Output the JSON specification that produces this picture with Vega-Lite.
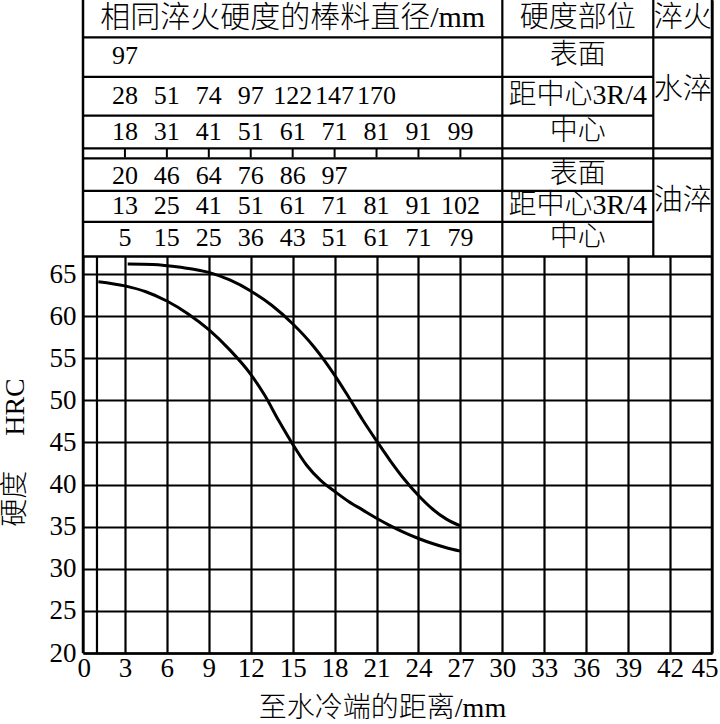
{
  "$schema": "https://vega.github.io/schema/vega-lite/v6.json",
  "width": 629,
  "height": 653,
  "autosize": {"type": "none"},
  "padding": {"left": 83, "top": 0, "right": 8, "bottom": 71},
  "background": "white",
  "config": {
    "view": {"stroke": null},
    "font": "Liberation Serif, Noto Sans CJK SC",
    "text": {"font": "Liberation Serif, Noto Sans CJK SC", "fontSize": 26, "color": "black", "align": "center", "baseline": "middle", "fontWeight": 300},
    "axis": {
      "labelFont": "Liberation Serif, Noto Sans CJK SC",
      "titleFont": "Liberation Serif, Noto Sans CJK SC",
      "labelColor": "black", "titleColor": "black",
      "labelFontSize": 27, "titleFontSize": 28, "titleFontWeight": 300,
      "gridColor": "black", "gridOpacity": 1, "gridWidth": 2.2, "ticks": false
    }
  },
  "datasets": {
    "one": [{"k": 1}],
    "curves": [
      {"series": "upper", "d": 3.2, "hrc": 66.2},
      {"series": "upper", "d": 5, "hrc": 66.15},
      {"series": "upper", "d": 7, "hrc": 65.8},
      {"series": "upper", "d": 9, "hrc": 65.2},
      {"series": "upper", "d": 10.5, "hrc": 64.3},
      {"series": "upper", "d": 12, "hrc": 63.0},
      {"series": "upper", "d": 13.5, "hrc": 61.3},
      {"series": "upper", "d": 15, "hrc": 59.1},
      {"series": "upper", "d": 16.5, "hrc": 56.4},
      {"series": "upper", "d": 18, "hrc": 53.0},
      {"series": "upper", "d": 19, "hrc": 50.4},
      {"series": "upper", "d": 20, "hrc": 47.7},
      {"series": "upper", "d": 21, "hrc": 45.2},
      {"series": "upper", "d": 22, "hrc": 42.8},
      {"series": "upper", "d": 23, "hrc": 40.6},
      {"series": "upper", "d": 24, "hrc": 38.7},
      {"series": "upper", "d": 25, "hrc": 37.1},
      {"series": "upper", "d": 26, "hrc": 35.9},
      {"series": "upper", "d": 27, "hrc": 35.1},
      {"series": "lower", "d": 1.1, "hrc": 64.1},
      {"series": "lower", "d": 3, "hrc": 63.6},
      {"series": "lower", "d": 4.5, "hrc": 62.9},
      {"series": "lower", "d": 6, "hrc": 61.8},
      {"series": "lower", "d": 7.5, "hrc": 60.3},
      {"series": "lower", "d": 9, "hrc": 58.4},
      {"series": "lower", "d": 10.5, "hrc": 56.0},
      {"series": "lower", "d": 12, "hrc": 53.1},
      {"series": "lower", "d": 13, "hrc": 50.6},
      {"series": "lower", "d": 14, "hrc": 47.6},
      {"series": "lower", "d": 15, "hrc": 44.8},
      {"series": "lower", "d": 16, "hrc": 42.3},
      {"series": "lower", "d": 17, "hrc": 40.5},
      {"series": "lower", "d": 18, "hrc": 39.2},
      {"series": "lower", "d": 19, "hrc": 38.0},
      {"series": "lower", "d": 20, "hrc": 37.0},
      {"series": "lower", "d": 21, "hrc": 36.0},
      {"series": "lower", "d": 22, "hrc": 35.1},
      {"series": "lower", "d": 23, "hrc": 34.3},
      {"series": "lower", "d": 24, "hrc": 33.6},
      {"series": "lower", "d": 25, "hrc": 33.0},
      {"series": "lower", "d": 26, "hrc": 32.5},
      {"series": "lower", "d": 27, "hrc": 32.1}
    ],
    "dia": [
      {"quench": "水淬", "part": "表面", "d": 3, "dia": "97"},
      {"quench": "水淬", "part": "距中心3R/4", "d": 3, "dia": "28"},
      {"quench": "水淬", "part": "距中心3R/4", "d": 6, "dia": "51"},
      {"quench": "水淬", "part": "距中心3R/4", "d": 9, "dia": "74"},
      {"quench": "水淬", "part": "距中心3R/4", "d": 12, "dia": "97"},
      {"quench": "水淬", "part": "距中心3R/4", "d": 15, "dia": "122"},
      {"quench": "水淬", "part": "距中心3R/4", "d": 18, "dia": "147"},
      {"quench": "水淬", "part": "距中心3R/4", "d": 21, "dia": "170"},
      {"quench": "水淬", "part": "中心", "d": 3, "dia": "18"},
      {"quench": "水淬", "part": "中心", "d": 6, "dia": "31"},
      {"quench": "水淬", "part": "中心", "d": 9, "dia": "41"},
      {"quench": "水淬", "part": "中心", "d": 12, "dia": "51"},
      {"quench": "水淬", "part": "中心", "d": 15, "dia": "61"},
      {"quench": "水淬", "part": "中心", "d": 18, "dia": "71"},
      {"quench": "水淬", "part": "中心", "d": 21, "dia": "81"},
      {"quench": "水淬", "part": "中心", "d": 24, "dia": "91"},
      {"quench": "水淬", "part": "中心", "d": 27, "dia": "99"},
      {"quench": "油淬", "part": "表面", "d": 3, "dia": "20"},
      {"quench": "油淬", "part": "表面", "d": 6, "dia": "46"},
      {"quench": "油淬", "part": "表面", "d": 9, "dia": "64"},
      {"quench": "油淬", "part": "表面", "d": 12, "dia": "76"},
      {"quench": "油淬", "part": "表面", "d": 15, "dia": "86"},
      {"quench": "油淬", "part": "表面", "d": 18, "dia": "97"},
      {"quench": "油淬", "part": "距中心3R/4", "d": 3, "dia": "13"},
      {"quench": "油淬", "part": "距中心3R/4", "d": 6, "dia": "25"},
      {"quench": "油淬", "part": "距中心3R/4", "d": 9, "dia": "41"},
      {"quench": "油淬", "part": "距中心3R/4", "d": 12, "dia": "51"},
      {"quench": "油淬", "part": "距中心3R/4", "d": 15, "dia": "61"},
      {"quench": "油淬", "part": "距中心3R/4", "d": 18, "dia": "71"},
      {"quench": "油淬", "part": "距中心3R/4", "d": 21, "dia": "81"},
      {"quench": "油淬", "part": "距中心3R/4", "d": 24, "dia": "91"},
      {"quench": "油淬", "part": "距中心3R/4", "d": 27, "dia": "102"},
      {"quench": "油淬", "part": "中心", "d": 3, "dia": "5"},
      {"quench": "油淬", "part": "中心", "d": 6, "dia": "15"},
      {"quench": "油淬", "part": "中心", "d": 9, "dia": "25"},
      {"quench": "油淬", "part": "中心", "d": 12, "dia": "36"},
      {"quench": "油淬", "part": "中心", "d": 15, "dia": "43"},
      {"quench": "油淬", "part": "中心", "d": 18, "dia": "51"},
      {"quench": "油淬", "part": "中心", "d": 21, "dia": "61"},
      {"quench": "油淬", "part": "中心", "d": 24, "dia": "71"},
      {"quench": "油淬", "part": "中心", "d": 27, "dia": "79"}
    ],
    "cells": [
      {"cell": "h1", "label": "相同淬火硬度的棒料直径/mm"},
      {"cell": "h2", "label": "硬度部位"},
      {"cell": "h3", "label": "淬火"},
      {"cell": "w1", "label": "表面"},
      {"cell": "w2", "label": "距中心3R/4"},
      {"cell": "w3", "label": "中心"},
      {"cell": "wq", "label": "水淬"},
      {"cell": "o1", "label": "表面"},
      {"cell": "o2", "label": "距中心3R/4"},
      {"cell": "o3", "label": "中心"},
      {"cell": "oq", "label": "油淬"}
    ]
  },
  "layer": [
    {
      "data": {"name": "curves"},
      "mark": {"type": "line", "color": "black", "strokeWidth": 3, "interpolate": "monotone"},
      "encoding": {
        "x": {
          "field": "d", "type": "quantitative",
          "scale": {"domain": [0, 45], "nice": false, "zero": false},
          "axis": {
            "values": [0, 3, 6, 9, 12, 15, 18, 21, 24, 27, 30, 33, 36, 39, 42, 45],
            "grid": true, "domain": true, "domainColor": "black", "domainWidth": 2.5,
            "labelPadding": 2, "labelFlush": true, "labelFlushOffset": 6, "labelOverlap": false,
            "title": "至水冷端的距离/mm", "titleX": 299, "titleY": 63, "titleBaseline": "alphabetic", "titleAlign": "center"
          }
        },
        "y": {
          "field": "hrc", "type": "quantitative",
          "scale": {"domain": [20, 97.55], "nice": false, "zero": false},
          "axis": {
            "values": [20, 25, 30, 35, 40, 45, 50, 55, 60, 65],
            "grid": true, "domain": false, "labelPadding": 7, "labelBaseline": "middle",
            "title": "硬度\u2003 HRC", "titleX": -68, "titleY": 452, "titleAngle": -90,
            "titleAlign": "center", "titleBaseline": "middle"
          }
        },
        "detail": {"field": "series"}
      }
    },
    {
      "data": {"name": "one"},
      "mark": {"type": "rect", "fill": "white"},
      "encoding": {"x": {"datum": 0}, "x2": {"datum": 45}, "y": {"datum": 67.09}, "y2": {"datum": 97.55}}
    },
    {
      "data": {"name": "dia"},
      "transform": [{"aggregate": [{"op": "count", "as": "n"}], "groupby": ["d"]}],
      "mark": {"type": "rule", "color": "black", "strokeWidth": 2},
      "encoding": {"x": {"field": "d", "type": "quantitative"}, "y": {"datum": 79.94}, "y2": {"datum": 78.85}}
    },
    {"data": {"name": "one"}, "mark": {"type": "rule", "color": "black", "strokeWidth": 2.2}, "encoding": {"x": {"datum": 0}, "x2": {"datum": 45}, "y": {"datum": 93.1}}},
    {"data": {"name": "one"}, "mark": {"type": "rule", "color": "black", "strokeWidth": 2.2}, "encoding": {"x": {"datum": 0}, "x2": {"datum": 40.8}, "y": {"datum": 88.41}}},
    {"data": {"name": "one"}, "mark": {"type": "rule", "color": "black", "strokeWidth": 2.2}, "encoding": {"x": {"datum": 0}, "x2": {"datum": 40.8}, "y": {"datum": 83.83}}},
    {"data": {"name": "one"}, "mark": {"type": "rule", "color": "black", "strokeWidth": 2.2}, "encoding": {"x": {"datum": 0}, "x2": {"datum": 45}, "y": {"datum": 79.94}}},
    {"data": {"name": "one"}, "mark": {"type": "rule", "color": "black", "strokeWidth": 2.2}, "encoding": {"x": {"datum": 0}, "x2": {"datum": 45}, "y": {"datum": 78.73}}},
    {"data": {"name": "one"}, "mark": {"type": "rule", "color": "black", "strokeWidth": 2.2}, "encoding": {"x": {"datum": 0}, "x2": {"datum": 40.8}, "y": {"datum": 74.89}}},
    {"data": {"name": "one"}, "mark": {"type": "rule", "color": "black", "strokeWidth": 2.2}, "encoding": {"x": {"datum": 0}, "x2": {"datum": 40.8}, "y": {"datum": 71.19}}},
    {"data": {"name": "one"}, "mark": {"type": "rule", "color": "black", "strokeWidth": 2.5}, "encoding": {"x": {"datum": 0}, "x2": {"datum": 45}, "y": {"datum": 67.09}}},
    {"data": {"name": "one"}, "mark": {"type": "rule", "color": "black", "strokeWidth": 2.5}, "encoding": {"x": {"datum": 0}, "y": {"datum": 20}, "y2": {"datum": 97.55}}},
    {"data": {"name": "one"}, "mark": {"type": "rule", "color": "black", "strokeWidth": 2.5}, "encoding": {"x": {"datum": 45}, "y": {"datum": 20}, "y2": {"datum": 97.55}}},
    {"data": {"name": "one"}, "mark": {"type": "rule", "color": "black", "strokeWidth": 2.2}, "encoding": {"x": {"datum": 30}, "y": {"datum": 67.09}, "y2": {"datum": 97.55}}},
    {"data": {"name": "one"}, "mark": {"type": "rule", "color": "black", "strokeWidth": 2.2}, "encoding": {"x": {"datum": 40.8}, "y": {"datum": 67.09}, "y2": {"datum": 97.55}}},
    {"data": {"name": "one"}, "mark": {"type": "rule", "color": "black", "strokeWidth": 2.2}, "encoding": {"x": {"datum": 1}, "y": {"datum": 20}, "y2": {"datum": 67.09}}},
    {"data": {"name": "dia"}, "transform": [{"filter": "datum.quench == '水淬' && datum.part == '表面'"}], "mark": {"type": "text", "fontSize": 26}, "encoding": {"x": {"field": "d", "type": "quantitative"}, "y": {"datum": 90.9}, "text": {"field": "dia", "type": "nominal"}}},
    {"data": {"name": "dia"}, "transform": [{"filter": "datum.quench == '水淬' && datum.part == '距中心3R/4'"}], "mark": {"type": "text", "fontSize": 26}, "encoding": {"x": {"field": "d", "type": "quantitative"}, "y": {"datum": 86.15}, "text": {"field": "dia", "type": "nominal"}}},
    {"data": {"name": "dia"}, "transform": [{"filter": "datum.quench == '水淬' && datum.part == '中心'"}], "mark": {"type": "text", "fontSize": 26}, "encoding": {"x": {"field": "d", "type": "quantitative"}, "y": {"datum": 81.93}, "text": {"field": "dia", "type": "nominal"}}},
    {"data": {"name": "dia"}, "transform": [{"filter": "datum.quench == '油淬' && datum.part == '表面'"}], "mark": {"type": "text", "fontSize": 26}, "encoding": {"x": {"field": "d", "type": "quantitative"}, "y": {"datum": 76.6}, "text": {"field": "dia", "type": "nominal"}}},
    {"data": {"name": "dia"}, "transform": [{"filter": "datum.quench == '油淬' && datum.part == '距中心3R/4'"}], "mark": {"type": "text", "fontSize": 26}, "encoding": {"x": {"field": "d", "type": "quantitative"}, "y": {"datum": 73.09}, "text": {"field": "dia", "type": "nominal"}}},
    {"data": {"name": "dia"}, "transform": [{"filter": "datum.quench == '油淬' && datum.part == '中心'"}], "mark": {"type": "text", "fontSize": 26}, "encoding": {"x": {"field": "d", "type": "quantitative"}, "y": {"datum": 69.29}, "text": {"field": "dia", "type": "nominal"}}},
    {"data": {"name": "cells"}, "transform": [{"filter": "datum.cell == 'h1'"}], "mark": {"type": "text", "fontSize": 30}, "encoding": {"x": {"datum": 15}, "y": {"datum": 95.36}, "text": {"field": "label", "type": "nominal"}}},
    {"data": {"name": "cells"}, "transform": [{"filter": "datum.cell == 'h2'"}], "mark": {"type": "text", "fontSize": 29}, "encoding": {"x": {"datum": 35.4}, "y": {"datum": 95.36}, "text": {"field": "label", "type": "nominal"}}},
    {"data": {"name": "cells"}, "transform": [{"filter": "datum.cell == 'h3'"}], "mark": {"type": "text", "fontSize": 29}, "encoding": {"x": {"datum": 42.9}, "y": {"datum": 95.36}, "text": {"field": "label", "type": "nominal"}}},
    {"data": {"name": "cells"}, "transform": [{"filter": "datum.cell == 'w1'"}], "mark": {"type": "text", "fontSize": 28}, "encoding": {"x": {"datum": 35.4}, "y": {"datum": 90.9}, "text": {"field": "label", "type": "nominal"}}},
    {"data": {"name": "cells"}, "transform": [{"filter": "datum.cell == 'w2'"}], "mark": {"type": "text", "fontSize": 28}, "encoding": {"x": {"datum": 35.4}, "y": {"datum": 86.15}, "text": {"field": "label", "type": "nominal"}}},
    {"data": {"name": "cells"}, "transform": [{"filter": "datum.cell == 'w3'"}], "mark": {"type": "text", "fontSize": 28}, "encoding": {"x": {"datum": 35.4}, "y": {"datum": 81.93}, "text": {"field": "label", "type": "nominal"}}},
    {"data": {"name": "cells"}, "transform": [{"filter": "datum.cell == 'wq'"}], "mark": {"type": "text", "fontSize": 29}, "encoding": {"x": {"datum": 42.9}, "y": {"datum": 86.86}, "text": {"field": "label", "type": "nominal"}}},
    {"data": {"name": "cells"}, "transform": [{"filter": "datum.cell == 'o1'"}], "mark": {"type": "text", "fontSize": 28}, "encoding": {"x": {"datum": 35.4}, "y": {"datum": 76.77}, "text": {"field": "label", "type": "nominal"}}},
    {"data": {"name": "cells"}, "transform": [{"filter": "datum.cell == 'o2'"}], "mark": {"type": "text", "fontSize": 28}, "encoding": {"x": {"datum": 35.4}, "y": {"datum": 73.09}, "text": {"field": "label", "type": "nominal"}}},
    {"data": {"name": "cells"}, "transform": [{"filter": "datum.cell == 'o3'"}], "mark": {"type": "text", "fontSize": 28}, "encoding": {"x": {"datum": 35.4}, "y": {"datum": 69.29}, "text": {"field": "label", "type": "nominal"}}},
    {"data": {"name": "cells"}, "transform": [{"filter": "datum.cell == 'oq'"}], "mark": {"type": "text", "fontSize": 29}, "encoding": {"x": {"datum": 42.9}, "y": {"datum": 73.68}, "text": {"field": "label", "type": "nominal"}}}
  ]
}
